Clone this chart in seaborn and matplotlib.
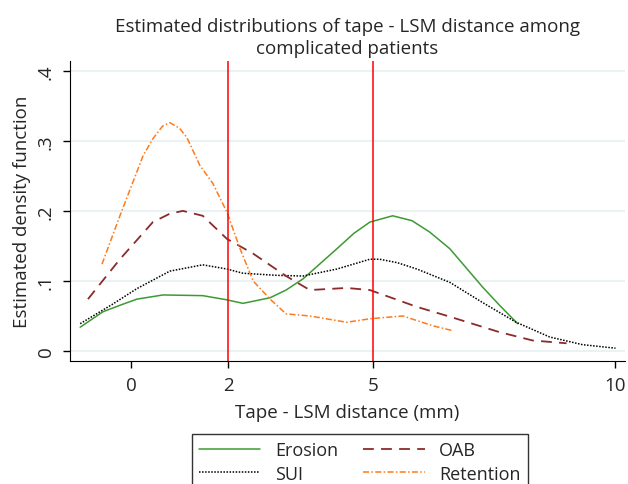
import pandas as pd
import matplotlib.pyplot as plt
import seaborn as sns
import numpy as np

# Values (tape - LSM distance in mm, estimated density)
erosion_x = [-1.05, -0.58, -0.20, 0.12, 0.66, 1.48, 1.98, 2.31, 2.87, 3.20, 3.55, 4.25, 4.60, 4.93, 5.40, 5.80, 6.16, 6.58, 7.26, 7.61, 7.98]
erosion_y = [0.034, 0.056, 0.066, 0.074, 0.080, 0.079, 0.073, 0.068, 0.076, 0.087, 0.103, 0.146, 0.168, 0.184, 0.193, 0.186, 0.170, 0.146, 0.091, 0.065, 0.039]

sui_x = [-1.05, -0.40, 0.12, 0.80, 1.48, 1.98, 2.31, 3.00, 3.55, 4.25, 4.93, 5.13, 5.50, 5.90, 6.58, 7.26, 7.95, 8.64, 9.32, 10.0]
sui_y = [0.039, 0.066, 0.089, 0.114, 0.123, 0.117, 0.111, 0.108, 0.107, 0.117, 0.131, 0.131, 0.126, 0.117, 0.098, 0.069, 0.041, 0.020, 0.009, 0.004]

oab_x = [-0.89, -0.23, 0.45, 0.80, 1.07, 1.48, 1.98, 2.52, 3.20, 3.69, 4.45, 4.93, 5.90, 6.58, 7.60, 8.29, 8.99]
oab_y = [0.074, 0.131, 0.184, 0.196, 0.200, 0.193, 0.160, 0.139, 0.107, 0.087, 0.090, 0.087, 0.063, 0.049, 0.027, 0.015, 0.011]

ret_x = [-0.60, -0.23, 0.25, 0.45, 0.65, 0.80, 1.00, 1.15, 1.42, 1.69, 1.98, 2.25, 2.52, 2.87, 3.20, 3.69, 4.45, 4.93, 5.61, 6.23, 6.64]
ret_y = [0.124, 0.193, 0.279, 0.303, 0.321, 0.326, 0.318, 0.305, 0.265, 0.239, 0.198, 0.146, 0.100, 0.074, 0.053, 0.050, 0.041, 0.046, 0.050, 0.036, 0.029]

cutoffs = [2, 5]
x_ticks = [0, 2, 5, 10]
y_ticks = [0, 0.1, 0.2, 0.3, 0.4]
y_tick_labels = ["0", ".1", ".2", ".3", ".4"]

sns.set_style("white")
plt.rcParams['font.family'] = ['Open Sans', 'DejaVu Sans']

fig = plt.figure(figsize=(6.28, 4.85), dpi=100)
ax = fig.add_axes([0.1115, 0.2536, 0.884, 0.6186])

for y in y_ticks:
    ax.axhline(y, color='#eaf2f3', linewidth=1.5, zorder=0)

sns.lineplot(x=erosion_x, y=erosion_y, ax=ax, color='#3d9a33', linewidth=1.1, label='Erosion', sort=False)
sns.lineplot(x=sui_x, y=sui_y, ax=ax, color='black', linewidth=1.1, linestyle=(0, (1, 1)), label='SUI', sort=False)
sns.lineplot(x=oab_x, y=oab_y, ax=ax, color='#8b2b2b', linewidth=1.3, linestyle=(0, (6, 4)), label='OAB', sort=False)
sns.lineplot(x=ret_x, y=ret_y, ax=ax, color='#ff7a1a', linewidth=1.1, linestyle=(0, (4, 1.5, 1, 1.5)), label='Retention', sort=False)

for c in cutoffs:
    ax.axvline(c, color='red', linewidth=1.1)

ax.set_xlim(-1.26, 10.2)
ax.set_ylim(-0.0143, 0.414)
ax.set_xticks(x_ticks)
ax.set_xticklabels([str(v) for v in x_ticks], fontsize=13.5)
ax.set_yticks(y_ticks)
ax.set_yticklabels(y_tick_labels, fontsize=13.5, rotation=90, va='center')
ax.tick_params(axis='both', direction='out', length=5, width=1, color='black', pad=6, left=True, bottom=True)

sns.despine(ax=ax)
ax.spines['left'].set_color('black')
ax.spines['bottom'].set_color('black')

ax.set_title("Estimated distributions of tape - LSM distance among\ncomplicated patients", fontsize=13.5, pad=6, linespacing=1.25)
ax.set_xlabel("Tape - LSM distance (mm)", fontsize=13.5, labelpad=6)
ax.set_ylabel("Estimated density function", fontsize=13.5, labelpad=4)

ax.get_legend().remove()
h, l = ax.get_legend_handles_labels()
leg = fig.legend(h, l, ncol=2, loc='upper center', bbox_to_anchor=(0.573, 0.103),
                 fontsize=13, frameon=True, fancybox=False, edgecolor='black',
                 handlelength=3.4, columnspacing=1.4, borderpad=0.4, labelspacing=0.3,
                 borderaxespad=0)
leg.get_frame().set_linewidth(1)

plt.savefig("out.png", dpi=100)
